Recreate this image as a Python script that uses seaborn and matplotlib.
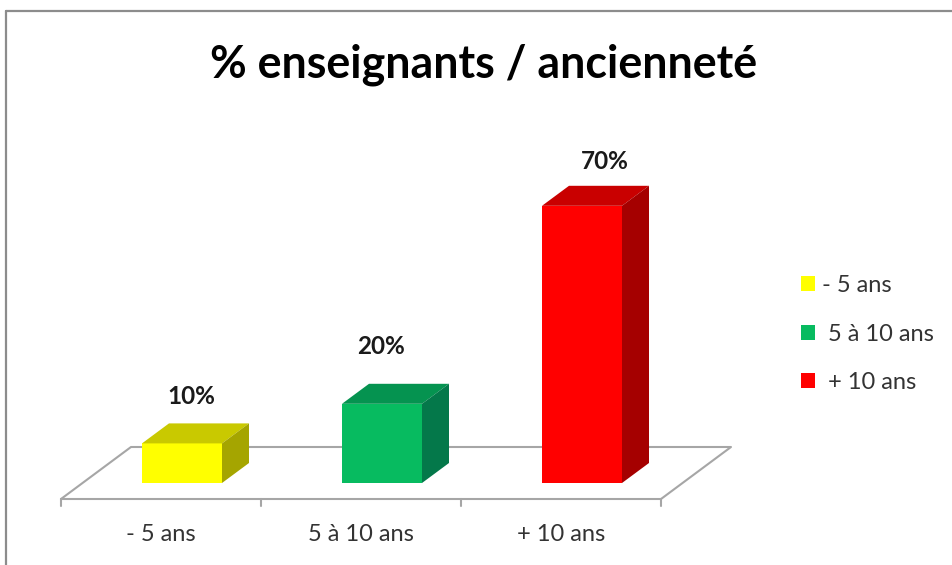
import matplotlib
matplotlib.use("Agg")
import matplotlib.pyplot as plt
import seaborn as sns
import pandas as pd
from matplotlib.patches import Polygon, Rectangle
from matplotlib.lines import Line2D

categories = ["- 5 ans", "5 à 10 ans", "+ 10 ans"]
legend_labels = ["- 5 ans", " 5 à 10 ans", " + 10 ans"]
values = [10, 20, 70]
value_labels = ["10%", "20%", "70%"]
front_colors = ["#FFFF00", "#07BB60", "#FF0000"]
top_colors = ["#C9C900", "#059350", "#C90000"]
side_colors = ["#A5A500", "#04784A", "#A50000"]
title = "% enseignants / ancienneté"

# hand-placed data label offsets from the front-face centre / top of the box (pixels)
label_dx_px = [9, -1, 23]
label_dy_px = [27, 37, 24]

W, H = 953, 565
PX = 72 / 100  # points per pixel at dpi 100
sns.set_theme(style="white")
plt.rcParams["font.family"] = ["Lato", "DejaVu Sans"]

fig = plt.figure(figsize=(W / 100, H / 100), dpi=100, facecolor="white")
# axes: x 61..661 px, y 499 (bottom)..100 (top) px
ax = fig.add_axes([61 / W, 1 - 499 / H, 600 / W, 399 / H])
df = pd.DataFrame({"cat": categories, "val": values})
sns.barplot(data=df, x="cat", y="val", hue="cat", palette=front_colors,
            dodge=False, width=0.4, saturation=1, legend=True, ax=ax,
            linewidth=0, zorder=3)

PX_PER_UNIT = 3.96
ax.set_xlim(-0.5, 2.5)
ax.set_ylim(-16 / PX_PER_UNIT, (483 - 100) / PX_PER_UNIT)
ax.set_xlabel("")
ax.set_ylabel("")
ax.set_yticks([])
ax.patch.set_alpha(0)
for s in ax.spines.values():
    s.set_visible(False)

ymin = ax.get_ylim()[0]
depth_x = 27 / 200
depth_y = 20 / PX_PER_UNIT
floor_x = 70 / 200
floor_y = 52 / PX_PER_UNIT
bar_shift = 21 / 200
gray = "#A6A6A6"

# floor outline
ax.add_line(Line2D([-0.5, -0.5 + floor_x, 2.5 + floor_x, 2.5],
                   [ymin, ymin + floor_y, ymin + floor_y, ymin],
                   color=gray, lw=1.5, clip_on=False, zorder=1))
ax.add_line(Line2D([-0.5, 2.5], [ymin, ymin], color=gray, lw=1.5,
                   clip_on=False, zorder=1))
for xt in [-0.5, 0.5, 1.5, 2.5]:
    ax.add_line(Line2D([xt, xt], [ymin, ymin - 7 / PX_PER_UNIT], color=gray, lw=1.5,
                       clip_on=False, zorder=1))

# 3D faces built from the bar rectangles
bars = [p for p in ax.patches if isinstance(p, Rectangle) and p.get_height() > 0]
bars = sorted(bars, key=lambda p: p.get_x())
for b, top, side, lab, ldx, ldy in zip(bars, top_colors, side_colors, value_labels,
                                       label_dx_px, label_dy_px):
    b.set_x(b.get_x() + bar_shift)
    x0, w, h = b.get_x(), b.get_width(), b.get_height()
    x1 = x0 + w
    ax.add_patch(Polygon([(x0, h), (x0 + depth_x, h + depth_y), (x1 + depth_x, h + depth_y), (x1, h)],
                         closed=True, fc=top, ec="none", zorder=3))
    ax.add_patch(Polygon([(x1, 0), (x1 + depth_x, depth_y), (x1 + depth_x, h + depth_y), (x1, h)],
                         closed=True, fc=side, ec="none", zorder=3))
    ax.annotate(lab, (x0 + w / 2, h + depth_y), xytext=(ldx * PX, ldy * PX), textcoords="offset points",
                ha="center", va="center", fontsize=17.5, fontweight="bold", color="#1A1A1A")

ax.set_xticks([0, 1, 2], categories)
ax.tick_params(axis="x", length=0, pad=18, labelsize=17, labelcolor="#333333")

# legend
handles, _ = ax.get_legend_handles_labels()
leg = ax.legend(handles, legend_labels, loc="upper left", frameon=False,
                bbox_to_anchor=(801 / W, 1 - 275 / H), bbox_transform=fig.transFigure,
                fontsize=17, labelcolor="#333333", handlelength=0.6, handleheight=0.6,
                handletextpad=0.28, labelspacing=1.17, borderpad=0, borderaxespad=0)

fig.text(484 / W, 1 - 65 / H, title, ha="center", va="center", fontsize=32.2,
         fontweight="bold", color="black")

# outer frame (left and top only)
frame = "#8C8C8C"
fig.add_artist(Line2D([6 / W, 6 / W], [0, 1 - 11 / H], color=frame, lw=1.6))
fig.add_artist(Line2D([6 / W, 1], [1 - 11 / H, 1 - 11 / H], color=frame, lw=1.6))

fig.savefig("out.png", dpi=100, facecolor="white")
